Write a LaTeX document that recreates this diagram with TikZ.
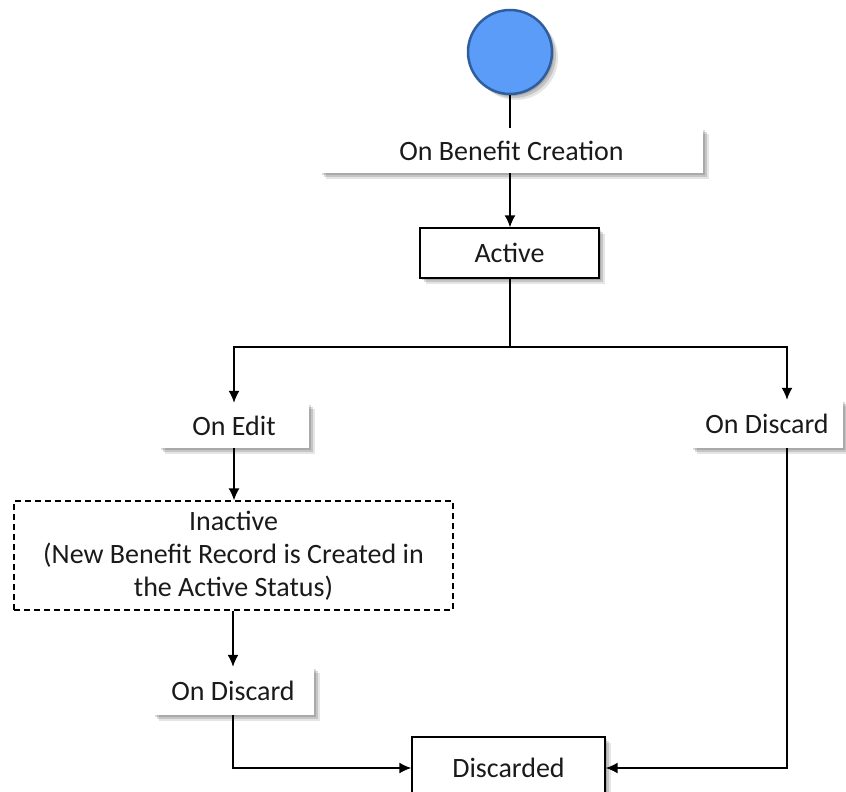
\documentclass[tikz,border=0pt]{standalone}
\usepackage{fontspec}
\setmainfont{Carlito}
\usetikzlibrary{arrows.meta,shadows,positioning}
\definecolor{startfill}{HTML}{5B9CF8}
\definecolor{startline}{HTML}{2E5E9E}
\definecolor{txt}{HTML}{1A1A1A}
\begin{document}
\begin{tikzpicture}[x=1pt,y=-1pt,
  font=\fontsize{28}{33}\selectfont, text=txt,
  shade/.style={drop shadow={shadow xshift=6pt,shadow yshift=-6pt,opacity=0.10,fill=black},
                drop shadow={shadow xshift=4pt,shadow yshift=-4pt,opacity=0.14,fill=black},
                drop shadow={shadow xshift=2pt,shadow yshift=-2pt,opacity=0.14,fill=black}},
  event/.style={rectangle,fill=white,shade,inner sep=0pt,align=center},
  statebox/.style={rectangle,draw=black,line width=1.4pt,fill=white,shade,inner sep=0pt,align=center},
  dashbox/.style={rectangle,draw=black,line width=1.3pt,dash pattern=on 6pt off 4pt,fill=white,inner sep=0pt,align=center},
  conn/.style={line width=1.5pt,draw=black},
  arr/.style={conn,-{Latex[length=12pt,width=11pt]}}]
\useasboundingbox (0,0) rectangle (846,792);

\node[circle,fill=startfill,draw=startline,line width=2.5pt,minimum size=84pt,inner sep=0pt,shade] (start) at (510,52) {};
\node[event,minimum width=383pt,minimum height=45pt] (obc) at (511.5,150.5) {On Benefit Creation};
\node[statebox,minimum width=179pt,minimum height=50pt] (active) at (509.5,253) {Active};
\node[event,minimum width=150pt,minimum height=45pt] (onedit) at (234,425.5) {On Edit};
\node[event,minimum width=152pt,minimum height=48pt] (ondiscR) at (767,424) {On Discard};
\node[dashbox,minimum width=439pt,minimum height=109pt] (inactive) at (233.5,555.5) {Inactive\\(New Benefit Record is Created in\\the Active Status)};
\node[event,minimum width=161pt,minimum height=48pt] (ondiscL) at (233,691) {On Discard};
\node[statebox,minimum width=193pt,minimum height=62pt] (discarded) at (508.5,768) {Discarded};

\coordinate (jc) at (510,347);
\coordinate (jl) at (234,347);
\coordinate (jr) at (787,347);

\draw[conn] (start.south) -- (start.south |- obc.north);
\draw[arr] (obc.south -| start) -- (active.north -| start);
\draw[conn] (active.south -| jc) -- (jc);
\draw[arr] (jc) -- (jl) -- (jl |- onedit.north);
\draw[arr] (jc) -- (jr) -- (jr |- ondiscR.north);
\draw[arr] (onedit.south -| jl) -- (inactive.north -| jl);
\draw[arr] (inactive.south -| ondiscL) -- (ondiscL.north);
\draw[arr] (ondiscL.south) |- (discarded.west);
\draw[arr] (jr |- ondiscR.south) |- (discarded.east);
\end{tikzpicture}
\end{document}
